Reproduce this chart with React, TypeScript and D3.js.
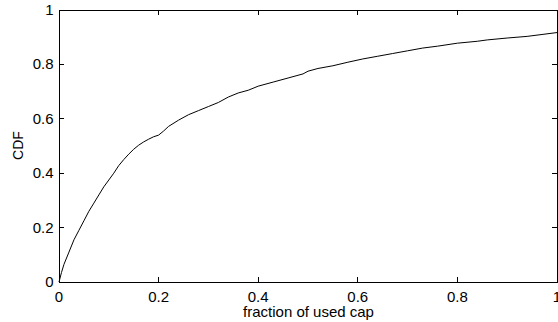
import React from "react";
import * as d3 from "d3";

const xValues = [0, 0.005, 0.01, 0.02, 0.03, 0.04, 0.05, 0.06, 0.07, 0.08, 0.09, 0.10, 0.11, 0.12, 0.13, 0.14, 0.15, 0.16, 0.17, 0.18, 0.19, 0.20, 0.21, 0.22, 0.24, 0.26, 0.28, 0.30, 0.32, 0.34, 0.36, 0.38, 0.40, 0.43, 0.46, 0.49, 0.50, 0.52, 0.55, 0.58, 0.61, 0.64, 0.67, 0.70, 0.73, 0.76, 0.80, 0.84, 0.86, 0.90, 0.94, 0.97, 1.0];
const cdfValues = [0, 0.035, 0.065, 0.11, 0.155, 0.19, 0.225, 0.26, 0.29, 0.32, 0.35, 0.375, 0.40, 0.428, 0.45, 0.47, 0.488, 0.503, 0.515, 0.525, 0.534, 0.54, 0.555, 0.572, 0.595, 0.615, 0.63, 0.645, 0.66, 0.68, 0.695, 0.705, 0.72, 0.735, 0.75, 0.765, 0.775, 0.785, 0.795, 0.808, 0.82, 0.83, 0.84, 0.85, 0.86, 0.867, 0.878, 0.885, 0.89, 0.897, 0.903, 0.91, 0.917];
const xTicks = [0, 0.2, 0.4, 0.6, 0.8, 1];
const yTicks = [0, 0.2, 0.4, 0.6, 0.8, 1];
const xLabel = "fraction of used cap";
const yLabel = "CDF";

export default function App() {
  const W = 558, H = 322;
  const left = 59, right = 557, top = 10, bottom = 282;
  const x = d3.scaleLinear().domain([0, 1]).range([left, right]);
  const y = d3.scaleLinear().domain([0, 1]).range([bottom, top]);
  const pts = xValues.map((v, i) => [v, cdfValues[i]] as [number, number]);
  const line = d3.line<[number, number]>().x(d => x(d[0])).y(d => y(d[1]));
  const font = "Liberation Sans, Arial, Helvetica, sans-serif";
  const tl = 5;
  return (
    <svg width={W} height={H} style={{ position: "absolute", left: 0, top: 0, background: "#fff" }}>
      <rect x={0} y={0} width={W} height={H} fill="#fff" />
      <path d={line(pts) || ""} fill="none" stroke="#000" strokeWidth={1} />
      <rect x={left} y={top} width={right - left} height={bottom - top} fill="none" stroke="#000" strokeWidth={1} shapeRendering="crispEdges" />
      {xTicks.map(t => (
        <g key={"x" + t}>
          <line x1={x(t)} x2={x(t)} y1={bottom} y2={bottom - tl} stroke="#000" shapeRendering="crispEdges" />
          <line x1={x(t)} x2={x(t)} y1={top} y2={top + tl} stroke="#000" shapeRendering="crispEdges" />
          <text x={x(t)} y={301.5} fontFamily={font} fontSize={15} textAnchor="middle">{String(t)}</text>
        </g>
      ))}
      {yTicks.map(t => (
        <g key={"y" + t}>
          <line x1={left} x2={left + tl} y1={y(t)} y2={y(t)} stroke="#000" shapeRendering="crispEdges" />
          <line x1={right} x2={right - tl} y1={y(t)} y2={y(t)} stroke="#000" shapeRendering="crispEdges" />
          <text x={53.5} y={y(t) + 5} fontFamily={font} fontSize={15} textAnchor="end">{String(t)}</text>
        </g>
      ))}
      <text x={(left + right) / 2 + 0.5} y={317} fontFamily={font} fontSize={15} textAnchor="middle">{xLabel}</text>
      <text transform={`translate(23,145.5) rotate(-90)`} fontFamily={font} fontSize={14} textAnchor="middle">{yLabel}</text>
    </svg>
  );
}
